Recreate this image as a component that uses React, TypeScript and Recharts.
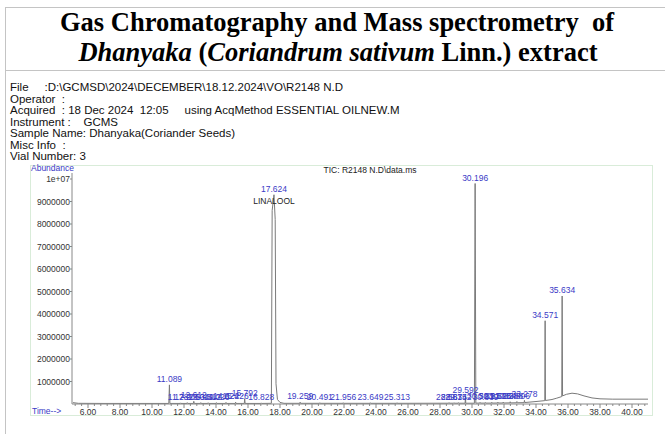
import React from 'react';
import { ComposedChart, Line, Scatter, XAxis, YAxis } from 'recharts';

// TIC trace: [retention time (min), abundance]
const ticTrace: [number, number][] = [
  [5.06, 60000], [5.4, 30000], [7.0, 25000], [9.0, 25000], [11.05, 25000],
  [11.089, 850000], [11.12, 25000],
  [11.76, 25000], [11.782, 50000], [11.8, 25000],
  [12.18, 25000], [12.205, 60000], [12.23, 25000],
  [12.59, 25000], [12.612, 120000], [12.64, 25000],
  [13.03, 25000], [13.049, 60000], [13.07, 25000],
  [13.49, 25000], [13.512, 55000], [13.54, 25000],
  [14.0, 25000], [14.026, 60000], [14.05, 25000],
  [14.6, 25000], [14.624, 70000], [14.65, 25000],
  [15.2, 25000], [15.226, 80000], [15.25, 25000],
  [15.77, 25000], [15.792, 240000], [15.82, 25000],
  [16.8, 25000], [16.828, 50000], [16.85, 25000],
  [17.46, 30000], [17.51, 8600000], [17.624, 9300000], [17.7, 8200000], [17.75, 900000],
  [17.84, 200000], [18.0, 70000], [18.25, 30000],
  [19.24, 30000], [19.259, 80000], [19.28, 30000],
  [20.47, 30000], [20.491, 55000], [20.51, 30000],
  [21.94, 30000], [21.956, 55000], [21.97, 30000],
  [23.63, 30000], [23.649, 55000], [23.67, 30000],
  [25.29, 30000], [25.313, 55000], [25.33, 30000],
  [28.54, 35000], [28.563, 60000], [28.58, 35000],
  [28.85, 35000], [28.874, 55000], [28.89, 35000],
  [29.13, 35000], [29.152, 60000], [29.17, 35000],
  [29.57, 35000], [29.592, 350000], [29.61, 35000],
  [30.15, 35000], [30.196, 9800000], [30.24, 40000],
  [30.48, 40000], [30.503, 70000], [30.52, 40000],
  [30.82, 40000], [30.839, 65000], [30.86, 40000],
  [31.22, 40000], [31.237, 75000], [31.26, 40000],
  [31.6, 45000], [31.618, 80000], [31.64, 45000],
  [31.93, 45000], [31.954, 85000], [31.97, 45000],
  [32.37, 50000], [32.388, 100000], [32.41, 50000],
  [32.78, 55000], [32.806, 110000], [32.83, 55000],
  [33.26, 60000], [33.278, 160000], [33.3, 65000],
  [34.0, 110000], [34.55, 150000], [34.571, 3700000], [34.59, 155000],
  [35.0, 200000], [35.3, 260000], [35.61, 330000], [35.634, 4800000], [35.66, 360000],
  [35.9, 430000], [36.25, 480000], [36.6, 450000], [37.0, 360000], [37.5, 270000],
  [38.0, 230000], [38.8, 215000], [41.0, 215000],
];

// integrated peaks that carry a retention-time label
const peakTimes = [
  11.089, 11.782, 12.205, 12.612, 13.049, 13.512, 14.026, 14.624, 15.226, 15.792, 16.828,
  17.624, 19.259, 20.491, 21.956, 23.649, 25.313,
  28.563, 28.874, 29.152, 29.592, 30.196, 30.503, 30.839, 31.237, 31.618, 31.954,
  32.388, 32.806, 33.278, 34.571, 35.634,
];
const peakNames: Record<string, string> = { '17.624': 'LINALOOL' };

const timeTicks = [6, 8, 10, 12, 14, 16, 18, 20, 22, 24, 26, 28, 30, 32, 34, 36, 38, 40];
const abundanceTicks = [1000000, 2000000, 3000000, 4000000, 5000000, 6000000, 7000000, 8000000, 9000000, 10000000];

const infoLines = [
  'File     :D:\\GCMSD\\2024\\DECEMBER\\18.12.2024\\VO\\R2148 N.D',
  'Operator  :',
  'Acquired  : 18 Dec 2024  12:05     using AcqMethod ESSENTIAL OILNEW.M',
  'Instrument :    GCMS',
  'Sample Name: Dhanyaka(Coriander Seeds)',
  'Misc Info  :',
  'Vial Number: 3',
];

const traceData = ticTrace.map(([t, a]) => ({ t, a }));
const peakData = peakTimes.map((t) => ({
  t,
  a: (ticTrace.find((p) => p[0] === t) || [t, 0])[1],
  name: peakNames[t.toFixed(3)],
}));

// minor ticks every 0.4 min, majors every 2 min
const allTimeTicks: number[] = [];
for (let v = 5.2; v <= 40.9; v += 0.4) allTimeTicks.push(Math.round(v * 10) / 10);

const BLUE = '#3a3ac6';
const SANS = 'Arial, "Liberation Sans", Helvetica, sans-serif';
const SERIF = '"Liberation Serif", "Times New Roman", serif';

const TimeTick = (props: any) => {
  const { x, y, payload } = props;
  const v = payload.value;
  const major = timeTicks.includes(v);
  return (
    <g>
      <line x1={x} x2={x} y1={y} y2={y + (major ? 4 : 2)} stroke="#888" strokeWidth={1} />
      {major && (
        <text x={x} y={y + 11} textAnchor="middle" fontSize={8.5} fontFamily={SANS} fill="#333">
          {v.toFixed(2)}
        </text>
      )}
    </g>
  );
};

const AbundanceTick = (props: any) => {
  const { x, y, payload } = props;
  const v = payload.value;
  const label = v === 10000000 ? '1e+07' : String(v);
  return (
    <g>
      <line x1={x - 2} x2={x} y1={y} y2={y} stroke="#888" strokeWidth={1} />
      <text x={x - 2} y={y + 3} textAnchor="end" fontSize={8.5} fontFamily={SANS} fill="#333">
        {label}
      </text>
    </g>
  );
};

const PeakLabel = (props: any) => {
  const { cx, cy, payload } = props;
  return (
    <g>
      <text x={cx} y={cy - 3} textAnchor="middle" fontSize={8.5} fontFamily={SANS} fill={BLUE}>
        {payload.t.toFixed(3)}
      </text>
      {payload.name && (
        <text x={cx} y={cy + 9} textAnchor="middle" fontSize={8.5} fontFamily={SANS} fill="#222">
          {payload.name}
        </text>
      )}
    </g>
  );
};

export default function App() {
  return (
    <div style={{ position: 'absolute', left: 0, top: 0, width: 665, height: 434, background: '#fff', overflow: 'hidden' }}>
      <svg width={665} height={434} style={{ position: 'absolute', left: 0, top: 0 }}>
        <line x1={5} x2={665} y1={7.5} y2={7.5} stroke="#c4c4c4" />
        <line x1={5.5} x2={5.5} y1={7} y2={434} stroke="#c4c4c4" />
        <line x1={5} x2={665} y1={70.5} y2={70.5} stroke="#c4c4c4" />
        <text x={337} y={31} textAnchor="middle" fontFamily={SERIF} fontWeight="bold" fontSize={26.5}
          fill="#000" style={{ whiteSpace: 'pre' }}>
          Gas Chromatography and Mass spectrometry  of
        </text>
        <text x={338} y={61} textAnchor="middle" fontFamily={SERIF} fontWeight="bold" fontSize={26.5} fill="#000">
          <tspan fontStyle="italic">Dhanyaka</tspan> (<tspan fontStyle="italic">Coriandrum sativum</tspan> Linn.) extract
        </text>
        <rect x={30.5} y={165.5} width={622} height={250} fill="none" stroke="#d9ecd9" />
        <text x={31} y={171} fontSize={8.5} fontFamily={SANS} fill={BLUE}>Abundance</text>
        <text x={370} y={173} textAnchor="middle" fontSize={8.5} fontFamily={SANS} fill="#222">TIC: R2148 N.D\data.ms</text>
        <text x={32} y={414} fontSize={8.5} fontFamily={SANS} fill={BLUE}>Time--&gt;</text>
      </svg>
      <div style={{ position: 'absolute', left: 10, top: 82, fontFamily: SANS, fontSize: 11.5, lineHeight: '11.5px', color: '#111', whiteSpace: 'pre' }}>
        {infoLines.map((l) => (
          <div key={l}>{l}</div>
        ))}
      </div>
      <div style={{ position: 'absolute', left: 0, top: 0 }}>
        <ComposedChart width={665} height={434} margin={{ top: 173, right: 17, bottom: 0, left: 12 }}>
          <XAxis
            dataKey="t"
            type="number"
            domain={[5, 41]}
            allowDataOverflow
            ticks={allTimeTicks}
            interval={0}
            tick={<TimeTick />}
            tickLine={false}
            tickSize={0}
            tickMargin={0}
            height={30}
            stroke="#888"
          />
          <YAxis
            type="number"
            domain={[0, 10266667]}
            allowDataOverflow
            ticks={abundanceTicks}
            interval={0}
            tick={<AbundanceTick />}
            tickLine={false}
            tickSize={0}
            tickMargin={0}
            width={60}
            stroke="#888"
          />
          <Line data={traceData} dataKey="a" type="linear" stroke="#7a7a7a" strokeWidth={1} dot={false} isAnimationActive={false} />
          <Scatter data={peakData} dataKey="a" shape={<PeakLabel />} isAnimationActive={false} />
        </ComposedChart>
      </div>
    </div>
  );
}
